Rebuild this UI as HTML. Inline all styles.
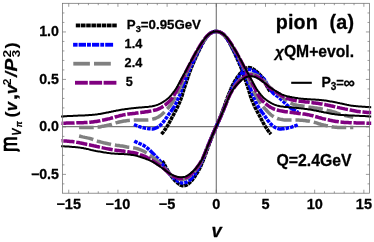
<!DOCTYPE html>
<html><head><meta charset="utf-8"><title>chart</title>
<style>svg text{stroke:#000;stroke-width:0.28px;stroke-linejoin:round}html,body{margin:0;padding:0;background:#fff;overflow:hidden}body{width:374px;height:242px;position:relative;font-family:"Liberation Sans",sans-serif}</style></head>
<body>
<svg width="374" height="242" viewBox="0 0 374 242" style="position:absolute;left:0;top:0;will-change:transform">
<rect width="374" height="242" fill="#fff"/>
<filter id="f" x="0" y="0" width="374" height="242" filterUnits="userSpaceOnUse" color-interpolation-filters="sRGB"><feOffset dx="0" dy="0"/></filter><g filter="url(#f)">
<defs><clipPath id="c"><rect x="61.1" y="3.3" width="310.09999999999997" height="189.89999999999998"/></clipPath></defs>
<g stroke="#787878" stroke-width="1.15" fill="none"><line x1="62.5" y1="126.6" x2="369.4" y2="126.6"/><line x1="216.3" y1="3.3" x2="216.3" y2="193.2"/></g>
<g fill="none" clip-path="url(#c)">
<path d="M161.4,134.2 L162.2,133.3 L163.0,132.4 L163.7,131.4 L164.4,130.4 L165.1,129.4 L165.8,128.5 L166.4,127.4 L167.1,126.4 L167.7,125.4 L168.3,124.3 L168.9,123.3 L169.5,122.3 L170.0,121.2 L170.6,120.1 L171.2,119.1 L171.7,118.0 L172.3,116.9 L172.9,115.9 L173.4,114.8 L174.0,113.8 L174.6,112.7 L175.1,111.6 L175.7,110.6 L176.2,109.5 L176.8,108.4 L177.3,107.4 L177.8,106.3 L178.3,105.2 L178.8,104.1 L179.3,103.0 L179.8,101.9 L180.2,100.7 L180.7,99.6 L181.1,98.5 L181.5,97.4 L181.9,96.2 L182.2,95.1 L182.6,93.9 L182.9,92.8 L183.2,91.6 L183.6,90.5 L183.9,89.3 L184.3,88.2 L184.7,87.0 L185.1,85.9 L185.5,84.7 L185.8,83.6 L186.2,82.5 L186.6,81.3 L187.0,80.2 L187.4,79.0 L187.7,77.9 L188.1,76.7 L188.5,75.6 L188.8,74.5 L189.2,73.3 L189.6,72.2 L190.1,71.1 L190.5,69.9 L190.9,68.8 L191.4,67.7 L191.8,66.6 L192.3,65.5 L192.8,64.4 L193.2,63.3 L193.7,62.2 L194.2,61.1 L194.7,60.0 L195.2,58.9 L195.7,57.8 L196.2,56.7 L196.7,55.6 L197.2,54.5 L197.7,53.4 L198.2,52.3 L198.7,51.2 L199.2,50.1 L199.8,49.1 L200.3,48.0 L200.9,46.9 L201.4,45.8 L202.0,44.8 L202.5,43.7 L203.1,42.7 L203.7,41.6 L204.3,40.6 L204.9,39.5 L205.6,38.5 L206.3,37.6 L207.0,36.6 L207.8,35.7 L208.7,34.8 L209.6,34.0 L210.5,33.3 L211.6,32.7 L212.7,32.1 L213.8,31.7 L215.0,31.5 L216.2,31.4 L217.4,31.5 L218.6,31.7 L219.7,32.1 L220.8,32.7 L221.9,33.3 L222.8,34.0 L223.7,34.8 L224.6,35.7 L225.4,36.6 L226.1,37.6 L226.8,38.5 L227.5,39.5 L228.1,40.6 L228.7,41.6 L229.3,42.7 L229.9,43.7 L230.4,44.8 L231.0,45.8 L231.5,46.9 L232.1,48.0 L232.6,49.1 L233.2,50.1 L233.7,51.2 L234.2,52.3 L234.7,53.4 L235.2,54.5 L235.7,55.6 L236.2,56.7 L236.7,57.8 L237.2,58.9 L237.7,60.0 L238.2,61.1 L238.7,62.2 L239.2,63.3 L239.6,64.4 L240.1,65.5 L240.6,66.6 L241.0,67.7 L241.5,68.8 L241.9,69.9 L242.3,71.1 L242.8,72.2 L243.2,73.3 L243.6,74.5 L243.9,75.6 L244.3,76.7 L244.7,77.9 L245.0,79.0 L245.4,80.2 L245.8,81.3 L246.2,82.5 L246.6,83.6 L246.9,84.7 L247.3,85.9 L247.7,87.0 L248.1,88.2 L248.5,89.3 L248.8,90.5 L249.2,91.6 L249.5,92.8 L249.8,93.9 L250.2,95.1 L250.5,96.2 L250.9,97.4 L251.3,98.5 L251.7,99.6 L252.2,100.7 L252.6,101.9 L253.1,103.0 L253.6,104.1 L254.1,105.2 L254.6,106.3 L255.1,107.4 L255.6,108.4 L256.2,109.5 L256.7,110.6 L257.3,111.6 L257.8,112.7 L258.4,113.8 L259.0,114.8 L259.5,115.9 L260.1,116.9 L260.7,118.0 L261.2,119.1 L261.8,120.1 L262.4,121.2 L262.9,122.3 L263.5,123.3 L264.1,124.3 L264.7,125.4 L265.3,126.4 L266.0,127.4 L266.6,128.5 L267.3,129.4 L268.0,130.4 L268.7,131.4 L269.4,132.4 L270.2,133.3 L271.0,134.2" stroke="#000" stroke-width="3.5" stroke-dasharray="3.65,0.65"/>
<path d="M162.3,161.0 L162.9,162.0 L163.6,163.0 L164.2,164.1 L164.8,165.1 L165.3,166.2 L165.9,167.3 L166.5,168.3 L167.0,169.4 L167.6,170.4 L168.2,171.5 L168.8,172.5 L169.5,173.5 L170.1,174.5 L170.8,175.5 L171.5,176.5 L172.3,177.5 L173.0,178.4 L173.8,179.3 L174.6,180.2 L175.5,181.1 L176.3,181.9 L177.2,182.7 L178.2,183.5 L179.1,184.2 L180.1,184.9 L181.2,185.4 L182.4,185.7 L183.6,185.8 L184.8,185.6 L186.0,185.3 L187.1,184.8 L188.1,184.1 L189.0,183.3 L189.9,182.5 L190.8,181.6 L191.6,180.7 L192.4,179.8 L193.1,178.8 L193.8,177.9 L194.6,176.9 L195.3,175.9 L195.9,174.9 L196.6,173.9 L197.2,172.9 L197.8,171.9 L198.4,170.8 L199.0,169.7 L199.5,168.7 L200.1,167.6 L200.6,166.5 L201.1,165.4 L201.5,164.3 L202.0,163.2 L202.5,162.1 L202.9,161.0 L203.4,159.8 L203.8,158.7 L204.3,157.6 L204.7,156.5 L205.1,155.4 L205.6,154.2 L206.0,153.1 L206.4,152.0 L206.8,150.8 L207.2,149.7 L207.6,148.6 L208.0,147.4 L208.4,146.3 L208.9,145.2 L209.3,144.0 L209.7,142.9 L210.1,141.8 L210.5,140.6 L211.0,139.5 L211.4,138.4 L211.8,137.3 L212.3,136.2 L212.7,135.0 L213.2,133.9 L213.6,132.8 L214.1,131.7 L214.6,130.6 L215.0,129.5 L215.5,128.4 L216.0,127.3 L216.4,126.1 L216.9,125.0 L217.4,123.9 L217.8,122.8 L218.3,121.7 L218.8,120.6 L219.2,119.5 L219.7,118.4 L220.1,117.2 L220.6,116.1 L221.0,115.0 L221.4,113.9 L221.9,112.8 L222.3,111.6 L222.7,110.5 L223.1,109.4 L223.5,108.2 L224.0,107.1 L224.4,106.0 L224.8,104.8 L225.2,103.7 L225.6,102.6 L226.0,101.4 L226.4,100.3 L226.8,99.2 L227.3,98.0 L227.7,96.9 L228.1,95.8 L228.6,94.7 L229.0,93.6 L229.5,92.4 L229.9,91.3 L230.4,90.2 L230.9,89.1 L231.3,88.0 L231.8,86.9 L232.3,85.8 L232.9,84.7 L233.4,83.7 L234.0,82.6 L234.6,81.5 L235.2,80.5 L235.8,79.5 L236.5,78.5 L237.1,77.5 L237.8,76.5 L238.6,75.5 L239.3,74.6 L240.0,73.6 L240.8,72.7 L241.6,71.8 L242.5,70.9 L243.4,70.1 L244.3,69.3 L245.3,68.6 L246.4,68.1 L247.6,67.8 L248.8,67.6 L250.0,67.7 L251.2,68.0 L252.3,68.5 L253.3,69.1 L254.2,69.8 L255.2,70.5 L256.1,71.2 L256.9,71.9 L257.8,72.6 L258.6,73.4 L259.4,74.2 L260.1,75.0 L260.9,75.8 L261.6,76.5 L262.3,77.3 L262.9,78.2 L263.6,79.3 L264.2,80.4 L264.8,81.5 L265.4,82.8 L265.9,84.1 L266.5,85.4 L267.1,86.5 L267.6,87.6 L268.2,88.6 L268.8,89.6 L269.5,90.6 L270.1,91.6" stroke="#000" stroke-width="3.5" stroke-dasharray="3.65,0.65"/>
<path d="M134.0,124.5 L135.1,125.0 L136.2,125.5 L137.3,125.9 L138.4,126.3 L139.6,126.7 L140.7,127.1 L141.9,127.4 L143.1,127.7 L144.2,127.9 L145.4,128.2 L146.6,128.4 L147.8,128.6 L149.0,128.7 L150.2,128.8 L151.4,128.9 L152.6,128.9 L153.8,128.7 L155.0,128.4 L156.1,128.0 L157.2,127.5 L158.3,126.9 L159.2,126.2 L160.2,125.4 L161.0,124.6 L161.9,123.7 L162.7,122.8 L163.4,121.8 L164.2,120.9 L164.9,119.9 L165.6,118.9 L166.3,117.9 L167.0,117.0 L167.6,116.0 L168.3,115.0 L169.0,114.0 L169.8,113.0 L170.5,112.1 L171.2,111.1 L171.9,110.1 L172.6,109.1 L173.3,108.1 L173.9,107.1 L174.5,106.1 L175.1,105.0 L175.6,104.0 L176.1,102.9 L176.6,101.8 L177.0,100.6 L177.5,99.5 L178.0,98.4 L178.5,97.3 L179.1,96.3 L179.6,95.2 L180.1,94.1 L180.5,93.0 L180.9,91.8 L181.2,90.7 L181.6,89.5 L182.0,88.4 L182.4,87.2 L182.8,86.1 L183.3,85.0 L183.8,83.9 L184.2,82.8 L184.7,81.7 L185.2,80.6 L185.6,79.5 L186.0,78.3 L186.4,77.2 L186.9,76.1 L187.3,75.0 L187.7,73.8 L188.2,72.7 L188.6,71.6 L189.1,70.5 L189.5,69.4 L190.0,68.3 L190.5,67.2 L191.0,66.1 L191.5,65.0 L192.0,63.9 L192.5,62.8 L193.0,61.7 L193.5,60.6 L194.1,59.5 L194.6,58.5 L195.1,57.4 L195.6,56.3 L196.1,55.2 L196.7,54.1 L197.2,53.0 L197.7,52.0 L198.3,50.9 L198.8,49.8 L199.4,48.8 L200.0,47.7 L200.5,46.6 L201.1,45.6 L201.7,44.5 L202.3,43.5 L202.9,42.4 L203.5,41.4 L204.1,40.4 L204.8,39.4 L205.5,38.4 L206.2,37.4 L206.9,36.5 L207.7,35.6 L208.6,34.7 L209.5,33.9 L210.5,33.2 L211.6,32.6 L212.7,32.1 L213.8,31.7 L215.0,31.5 L216.2,31.4 L217.4,31.5 L218.6,31.7 L219.7,32.1 L220.8,32.6 L221.9,33.2 L222.9,33.9 L223.8,34.7 L224.7,35.6 L225.5,36.5 L226.2,37.4 L226.9,38.4 L227.6,39.4 L228.3,40.4 L228.9,41.4 L229.5,42.4 L230.1,43.5 L230.7,44.5 L231.3,45.6 L231.9,46.6 L232.4,47.7 L233.0,48.8 L233.6,49.8 L234.1,50.9 L234.7,52.0 L235.2,53.0 L235.7,54.1 L236.3,55.2 L236.8,56.3 L237.3,57.4 L237.8,58.5 L238.3,59.5 L238.9,60.6 L239.4,61.7 L239.9,62.8 L240.4,63.9 L240.9,65.0 L241.4,66.1 L241.9,67.2 L242.4,68.3 L242.9,69.4 L243.3,70.5 L243.8,71.6 L244.2,72.7 L244.7,73.8 L245.1,75.0 L245.5,76.1 L246.0,77.2 L246.4,78.3 L246.8,79.5 L247.2,80.6 L247.7,81.7 L248.2,82.8 L248.6,83.9 L249.1,85.0 L249.6,86.1 L250.0,87.2 L250.4,88.4 L250.8,89.5 L251.2,90.7 L251.5,91.8 L251.9,93.0 L252.3,94.1 L252.8,95.2 L253.3,96.3 L253.9,97.3 L254.4,98.4 L254.9,99.5 L255.4,100.6 L255.8,101.8 L256.3,102.9 L256.8,104.0 L257.3,105.0 L257.9,106.1 L258.5,107.1 L259.1,108.1 L259.8,109.1 L260.5,110.1 L261.2,111.1 L261.9,112.1 L262.6,113.0 L263.4,114.0 L264.1,115.0 L264.8,116.0 L265.4,117.0 L266.1,117.9 L266.8,118.9 L267.5,119.9 L268.2,120.9 L269.0,121.8 L269.7,122.8 L270.5,123.7 L271.4,124.6 L272.2,125.4 L273.2,126.2 L274.1,126.9 L275.2,127.5 L276.3,128.0 L277.4,128.4 L278.6,128.7 L279.8,128.9 L281.0,128.9 L282.2,128.8 L283.4,128.7 L284.6,128.6 L285.8,128.4 L287.0,128.2 L288.2,127.9 L289.3,127.7 L290.5,127.4 L291.7,127.1 L292.8,126.7 L294.0,126.3 L295.1,125.9 L296.2,125.5 L297.3,125.0 L298.4,124.5" stroke="#0000ff" stroke-width="3.5" stroke-dasharray="3.6,0.97,3.6,0.97,3.6,0.97,3.6,0.97,7.37,0.97"/>
<path d="M134.3,141.1 L135.3,141.7 L136.4,142.2 L137.5,142.7 L138.6,143.2 L139.8,143.7 L140.9,144.1 L142.0,144.6 L143.0,145.1 L144.1,145.7 L145.1,146.4 L146.1,147.1 L147.0,147.8 L148.0,148.6 L148.9,149.4 L149.8,150.2 L150.6,151.0 L151.5,151.9 L152.3,152.8 L153.1,153.6 L154.0,154.5 L154.8,155.3 L155.6,156.2 L156.5,157.1 L157.3,158.0 L158.1,158.8 L158.9,159.7 L159.7,160.6 L160.5,161.6 L161.2,162.5 L162.0,163.5 L162.7,164.4 L163.4,165.4 L164.1,166.4 L164.8,167.4 L165.5,168.4 L166.1,169.4 L166.8,170.4 L167.5,171.3 L168.2,172.3 L169.0,173.2 L169.8,174.2 L170.6,175.0 L171.4,175.9 L172.3,176.8 L173.1,177.6 L174.0,178.4 L175.0,179.2 L175.9,179.9 L176.9,180.6 L177.9,181.3 L179.0,181.9 L180.1,182.3 L181.2,182.7 L182.4,182.9 L183.6,182.9 L184.8,182.7 L186.0,182.4 L187.1,181.9 L188.2,181.3 L189.2,180.7 L190.1,179.9 L191.0,179.0 L191.8,178.2 L192.6,177.2 L193.3,176.3 L194.1,175.3 L194.8,174.4 L195.4,173.4 L196.1,172.4 L196.7,171.3 L197.3,170.3 L197.9,169.3 L198.5,168.2 L199.1,167.1 L199.6,166.1 L200.2,165.0 L200.7,163.9 L201.2,162.8 L201.7,161.7 L202.2,160.6 L202.6,159.5 L203.1,158.4 L203.5,157.3 L204.0,156.1 L204.4,155.0 L204.9,153.9 L205.3,152.8 L205.7,151.7 L206.1,150.5 L206.6,149.4 L207.0,148.3 L207.4,147.2 L207.9,146.0 L208.3,144.9 L208.8,143.8 L209.2,142.7 L209.7,141.6 L210.2,140.5 L210.6,139.4 L211.1,138.3 L211.6,137.1 L212.0,136.0 L212.5,134.9 L213.0,133.8 L213.5,132.7 L214.0,131.6 L214.5,130.5 L215.0,129.4 L215.5,128.3 L216.0,127.2 L216.4,126.2 L216.9,125.1 L217.4,124.0 L217.9,122.9 L218.4,121.8 L218.9,120.7 L219.4,119.6 L219.9,118.5 L220.4,117.4 L220.8,116.3 L221.3,115.1 L221.8,114.0 L222.2,112.9 L222.7,111.8 L223.2,110.7 L223.6,109.6 L224.1,108.5 L224.5,107.4 L225.0,106.2 L225.4,105.1 L225.8,104.0 L226.3,102.9 L226.7,101.7 L227.1,100.6 L227.5,99.5 L228.0,98.4 L228.4,97.3 L228.9,96.1 L229.3,95.0 L229.8,93.9 L230.2,92.8 L230.7,91.7 L231.2,90.6 L231.7,89.5 L232.2,88.4 L232.8,87.3 L233.3,86.3 L233.9,85.2 L234.5,84.1 L235.1,83.1 L235.7,82.1 L236.3,81.0 L237.0,79.9 L237.6,78.8 L238.3,77.7 L239.1,76.6 L239.8,75.5 L240.6,74.5 L241.4,73.5 L242.3,72.6 L243.2,71.8 L244.2,71.0 L245.3,70.3 L246.4,69.8 L247.6,69.5 L248.8,69.4 L250.0,69.4 L251.2,69.7 L252.3,70.2 L253.4,70.8 L254.5,71.5 L255.5,72.3 L256.5,73.2 L257.4,73.8 L258.4,74.6 L259.3,75.3 L260.1,76.1 L261.0,76.7 L261.8,77.2 L262.6,77.8 L263.4,78.4 L264.2,79.1 L264.9,80.2 L265.6,81.4 L266.3,82.7 L266.9,84.0 L267.6,85.3 L268.3,86.6 L269.0,87.8 L269.7,88.8 L270.4,89.7 L271.2,90.6 L271.9,91.6 L272.7,92.5 L273.5,93.4 L274.3,94.0 L275.1,94.6 L275.9,95.2 L276.8,95.8 L277.6,96.4 L278.4,96.9 L279.3,97.7 L280.1,98.5 L280.9,99.3 L281.8,100.1 L282.6,100.9 L283.5,101.6 L284.4,102.6 L285.4,103.6 L286.3,104.5 L287.3,105.4 L288.3,106.2 L289.4,107.1 L290.4,107.8 L291.5,108.5 L292.6,109.3 L293.8,109.9 L294.9,110.5 L296.0,111.2 L297.1,111.8 L298.1,112.6" stroke="#0000ff" stroke-width="3.5" stroke-dasharray="3.6,0.97,3.6,0.97,3.6,0.97,3.6,0.97,7.37,0.97"/>
<path d="M79.1,127.5 L80.3,127.5 L81.5,127.5 L82.7,127.5 L83.9,127.6 L85.1,127.6 L86.3,127.6 L87.5,127.6 L88.7,127.6 L89.9,127.6 L91.1,127.6 L92.3,127.6 L93.5,127.5 L94.7,127.4 L95.9,127.3 L97.1,127.2 L98.3,127.1 L99.5,126.9 L100.7,126.7 L101.9,126.4 L103.0,126.2 L104.2,126.0 L105.4,125.7 L106.6,125.5 L107.8,125.2 L108.9,125.0 L110.1,124.7 L111.3,124.4 L112.4,124.0 L113.6,123.7 L114.7,123.3 L115.8,122.9 L117.0,122.6 L118.2,122.3 L119.3,122.0 L120.5,121.7 L121.7,121.5 L122.9,121.2 L124.0,121.0 L125.2,120.9 L126.4,120.7 L127.6,120.5 L128.8,120.4 L130.0,120.3 L131.2,120.2 L132.4,120.2 L133.6,120.1 L134.8,120.1 L136.0,120.1 L137.2,120.1 L138.4,120.1 L139.6,120.1 L140.8,120.1 L142.0,120.1 L143.2,120.1 L144.4,120.1 L145.6,120.1 L146.8,120.0 L148.0,119.9 L149.2,119.8 L150.4,119.6 L151.6,119.4 L152.8,119.1 L154.0,118.8 L155.1,118.5 L156.2,118.0 L157.3,117.5 L158.4,117.0 L159.4,116.3 L160.4,115.6 L161.4,114.9 L162.3,114.1 L163.1,113.3 L164.0,112.4 L164.8,111.5 L165.6,110.7 L166.4,109.8 L167.3,108.9 L168.1,108.0 L168.9,107.1 L169.7,106.2 L170.5,105.3 L171.2,104.4 L171.9,103.4 L172.5,102.3 L173.1,101.3 L173.6,100.2 L174.2,99.1 L174.7,98.1 L175.3,97.0 L176.0,96.0 L176.6,95.0 L177.2,94.0 L177.8,92.9 L178.3,91.8 L178.8,90.7 L179.2,89.6 L179.7,88.5 L180.2,87.4 L180.7,86.3 L181.2,85.2 L181.6,84.1 L182.1,83.0 L182.6,81.9 L183.1,80.8 L183.5,79.7 L184.0,78.6 L184.4,77.4 L184.9,76.3 L185.4,75.2 L185.8,74.1 L186.3,73.0 L186.8,71.9 L187.3,70.8 L187.8,69.7 L188.3,68.6 L188.9,67.6 L189.4,66.5 L189.9,65.4 L190.4,64.3 L190.9,63.2 L191.4,62.1 L192.0,61.1 L192.5,60.0 L193.1,58.9 L193.6,57.9 L194.2,56.8 L194.8,55.7 L195.3,54.7 L195.9,53.6 L196.5,52.6 L197.1,51.5 L197.7,50.5 L198.3,49.4 L198.9,48.4 L199.5,47.3 L200.1,46.3 L200.7,45.3 L201.3,44.3 L202.0,43.2 L202.6,42.2 L203.3,41.2 L204.0,40.2 L204.7,39.2 L205.4,38.3 L206.1,37.3 L206.9,36.4 L207.7,35.6 L208.6,34.7 L209.5,33.9 L210.5,33.2 L211.6,32.6 L212.7,32.1 L213.8,31.7 L215.0,31.5 L216.2,31.4 L217.4,31.5 L218.6,31.7 L219.7,32.1 L220.8,32.6 L221.9,33.2 L222.9,33.9 L223.8,34.7 L224.7,35.6 L225.5,36.4 L226.3,37.3 L227.0,38.3 L227.7,39.2 L228.4,40.2 L229.1,41.2 L229.8,42.2 L230.4,43.2 L231.1,44.3 L231.7,45.3 L232.3,46.3 L232.9,47.3 L233.5,48.4 L234.1,49.4 L234.7,50.5 L235.3,51.5 L235.9,52.6 L236.5,53.6 L237.1,54.7 L237.6,55.7 L238.2,56.8 L238.8,57.9 L239.3,58.9 L239.9,60.0 L240.4,61.1 L241.0,62.1 L241.5,63.2 L242.0,64.3 L242.5,65.4 L243.0,66.5 L243.5,67.6 L244.1,68.6 L244.6,69.7 L245.1,70.8 L245.6,71.9 L246.1,73.0 L246.6,74.1 L247.0,75.2 L247.5,76.3 L248.0,77.4 L248.4,78.6 L248.9,79.7 L249.3,80.8 L249.8,81.9 L250.3,83.0 L250.8,84.1 L251.2,85.2 L251.7,86.3 L252.2,87.4 L252.7,88.5 L253.2,89.6 L253.6,90.7 L254.1,91.8 L254.6,92.9 L255.2,94.0 L255.8,95.0 L256.4,96.0 L257.1,97.0 L257.7,98.1 L258.2,99.1 L258.8,100.2 L259.3,101.3 L259.9,102.3 L260.5,103.4 L261.2,104.4 L261.9,105.3 L262.7,106.2 L263.5,107.1 L264.3,108.0 L265.1,108.9 L266.0,109.8 L266.8,110.7 L267.6,111.5 L268.4,112.4 L269.3,113.3 L270.1,114.1 L271.0,114.9 L272.0,115.6 L273.0,116.3 L274.0,117.0 L275.1,117.5 L276.2,118.0 L277.3,118.5 L278.4,118.8 L279.6,119.1 L280.8,119.4 L282.0,119.6 L283.2,119.8 L284.4,119.9 L285.6,120.0 L286.8,120.1 L288.0,120.1 L289.2,120.1 L290.4,120.1 L291.6,120.1 L292.8,120.1 L294.0,120.1 L295.2,120.1 L296.4,120.1 L297.6,120.1 L298.8,120.1 L300.0,120.2 L301.2,120.2 L302.4,120.3 L303.6,120.4 L304.8,120.5 L306.0,120.7 L307.2,120.9 L308.4,121.0 L309.5,121.2 L310.7,121.5 L311.9,121.7 L313.1,122.0 L314.2,122.3 L315.4,122.6 L316.6,122.9 L317.7,123.3 L318.8,123.7 L320.0,124.0 L321.1,124.4 L322.3,124.7 L323.5,125.0 L324.6,125.2 L325.8,125.5 L327.0,125.7 L328.2,126.0 L329.4,126.2 L330.5,126.4 L331.7,126.7 L332.9,126.9 L334.1,127.1 L335.3,127.2 L336.5,127.3 L337.7,127.4 L338.9,127.5 L340.1,127.6 L341.3,127.6 L342.5,127.6 L343.7,127.6 L344.9,127.6 L346.1,127.6 L347.3,127.6 L348.5,127.6 L349.7,127.5 L350.9,127.5 L352.1,127.5 L353.3,127.5" stroke="#808080" stroke-width="3.5" stroke-dasharray="14.6,3.9"/>
<path d="M79.1,136.0 L80.3,136.3 L81.4,136.6 L82.6,136.9 L83.8,137.1 L84.9,137.4 L86.1,137.6 L87.3,137.9 L88.5,138.1 L89.6,138.4 L90.8,138.7 L92.0,139.1 L93.1,139.5 L94.2,139.9 L95.3,140.3 L96.4,140.8 L97.6,141.2 L98.7,141.5 L99.9,141.8 L101.0,142.1 L102.2,142.4 L103.4,142.7 L104.6,142.9 L105.7,143.2 L106.9,143.5 L108.1,143.8 L109.2,144.1 L110.4,144.3 L111.6,144.6 L112.8,144.8 L113.9,144.9 L115.1,145.1 L116.3,145.3 L117.5,145.4 L118.7,145.6 L119.9,145.8 L121.1,145.9 L122.3,146.1 L123.5,146.3 L124.6,146.5 L125.8,146.7 L127.0,147.0 L128.2,147.2 L129.4,147.3 L130.6,147.5 L131.7,147.6 L132.9,147.7 L134.1,147.9 L135.3,148.1 L136.5,148.4 L137.6,148.7 L138.8,149.1 L139.9,149.5 L141.0,150.0 L142.1,150.5 L143.2,151.0 L144.3,151.5 L145.3,152.1 L146.3,152.8 L147.4,153.4 L148.4,154.1 L149.3,154.8 L150.3,155.5 L151.3,156.2 L152.3,156.9 L153.2,157.6 L154.2,158.3 L155.1,159.1 L156.0,159.8 L157.0,160.6 L157.9,161.4 L158.8,162.2 L159.7,163.0 L160.5,163.8 L161.4,164.7 L162.2,165.5 L163.1,166.4 L163.9,167.3 L164.7,168.2 L165.4,169.1 L166.2,170.0 L167.0,170.9 L167.8,171.8 L168.6,172.7 L169.4,173.6 L170.3,174.4 L171.2,175.2 L172.2,175.9 L173.2,176.6 L174.2,177.2 L175.3,177.8 L176.4,178.3 L177.5,178.7 L178.7,179.0 L179.9,179.3 L181.1,179.4 L182.3,179.4 L183.5,179.2 L184.7,179.0 L185.8,178.6 L186.9,178.1 L188.0,177.5 L189.0,176.8 L189.9,176.1 L190.8,175.3 L191.7,174.4 L192.5,173.6 L193.3,172.7 L194.1,171.8 L194.9,170.9 L195.7,169.9 L196.4,169.0 L197.1,168.0 L197.8,167.1 L198.5,166.1 L199.2,165.1 L199.9,164.1 L200.5,163.1 L201.1,162.0 L201.7,161.0 L202.3,159.9 L202.8,158.8 L203.3,157.7 L203.7,156.6 L204.2,155.5 L204.6,154.4 L205.1,153.3 L205.5,152.1 L205.9,151.0 L206.3,149.9 L206.8,148.8 L207.2,147.7 L207.6,146.5 L208.1,145.4 L208.5,144.3 L209.0,143.2 L209.5,142.1 L209.9,141.0 L210.4,139.9 L210.9,138.8 L211.3,137.7 L211.8,136.6 L212.3,135.5 L212.8,134.4 L213.3,133.3 L213.8,132.2 L214.2,131.1 L214.7,130.0 L215.2,128.9 L215.7,127.8 L216.2,126.7 L216.7,125.6 L217.2,124.5 L217.7,123.4 L218.2,122.3 L218.6,121.2 L219.1,120.1 L219.6,119.0 L220.1,117.9 L220.6,116.8 L221.1,115.7 L221.5,114.6 L222.0,113.5 L222.5,112.4 L222.9,111.3 L223.4,110.2 L223.9,109.1 L224.3,108.0 L224.8,106.9 L225.2,105.7 L225.6,104.6 L226.1,103.5 L226.5,102.4 L226.9,101.3 L227.3,100.1 L227.8,99.0 L228.2,97.9 L228.7,96.8 L229.1,95.7 L229.6,94.6 L230.1,93.5 L230.7,92.4 L231.3,91.4 L231.9,90.3 L232.5,89.3 L233.2,88.3 L233.9,87.3 L234.6,86.3 L235.3,85.4 L236.0,84.4 L236.7,83.5 L237.5,82.5 L238.3,81.6 L239.1,80.7 L239.9,79.8 L240.7,79.0 L241.6,78.1 L242.5,77.3 L243.4,76.6 L244.4,75.9 L245.5,75.3 L246.6,74.8 L247.7,74.4 L248.9,74.2 L250.1,74.0 L251.3,74.0 L252.5,74.1 L253.7,74.4 L254.9,74.7 L256.0,75.1 L257.1,75.6 L258.2,76.2 L259.2,76.8 L260.2,77.5 L261.2,78.2 L262.1,79.0 L263.0,79.8 L263.8,80.7 L264.6,81.6 L265.4,82.5 L266.2,83.4 L267.0,84.2 L267.7,85.0 L268.5,85.9 L269.3,86.7 L270.2,87.5 L271.0,88.2 L271.9,88.9 L272.7,89.6 L273.6,90.4 L274.5,91.1 L275.4,91.9 L276.4,92.6 L277.3,93.3 L278.2,94.1 L279.2,94.8 L280.1,95.5 L281.1,96.2 L282.1,97.0 L283.1,97.8 L284.0,98.6 L285.0,99.4 L286.1,100.1 L287.1,100.9 L288.1,101.6 L289.2,102.3 L290.3,102.9 L291.4,103.4 L292.5,103.9 L293.6,104.3 L294.8,104.7 L295.9,105.0 L297.1,105.3 L298.3,105.5 L299.5,105.7 L300.7,105.8 L301.8,105.9 L303.0,106.1 L304.2,106.2 L305.4,106.4 L306.6,106.7 L307.8,106.9 L308.9,107.1 L310.1,107.3 L311.3,107.5 L312.5,107.6 L313.7,107.8 L314.9,108.0 L316.1,108.1 L317.3,108.3 L318.5,108.5 L319.6,108.6 L320.8,108.8 L322.0,109.1 L323.2,109.3 L324.3,109.6 L325.5,109.9 L326.7,110.2 L327.8,110.5 L329.0,110.7 L330.2,111.0 L331.4,111.3 L332.5,111.6 L333.7,111.9 L334.8,112.2 L336.0,112.6 L337.1,113.1 L338.2,113.5 L339.3,113.9 L340.4,114.3 L341.6,114.7 L342.8,115.0 L343.9,115.3 L345.1,115.5 L346.3,115.8 L347.5,116.0 L348.6,116.3 L349.8,116.5 L351.0,116.8 L352.1,117.1 L353.3,117.4" stroke="#808080" stroke-width="3.5" stroke-dasharray="14.6,3.9"/>
<path d="M52.0,123.5 L53.2,123.5 L54.4,123.4 L55.6,123.4 L56.8,123.4 L58.0,123.3 L59.2,123.3 L60.4,123.3 L61.6,123.2 L62.8,123.2 L64.0,123.2 L65.2,123.2 L66.4,123.1 L67.6,123.1 L68.8,123.1 L70.0,123.1 L71.2,123.0 L72.4,123.0 L73.6,123.0 L74.8,122.9 L76.0,122.9 L77.2,122.8 L78.4,122.8 L79.6,122.8 L80.8,122.7 L82.0,122.7 L83.2,122.7 L84.4,122.6 L85.7,122.6 L86.9,122.5 L88.1,122.4 L89.3,122.3 L90.4,122.2 L91.6,122.1 L92.8,122.0 L94.0,121.8 L95.2,121.6 L96.4,121.5 L97.6,121.2 L98.8,121.0 L100.0,120.8 L101.1,120.5 L102.3,120.3 L103.5,120.0 L104.7,119.8 L105.8,119.5 L107.0,119.2 L108.2,118.9 L109.3,118.7 L110.5,118.4 L111.7,118.0 L112.8,117.7 L114.0,117.4 L115.1,117.0 L116.3,116.7 L117.4,116.4 L118.6,116.1 L119.8,115.7 L120.9,115.4 L122.1,115.2 L123.3,114.9 L124.4,114.7 L125.6,114.5 L126.8,114.3 L128.0,114.1 L129.2,114.0 L130.4,113.8 L131.6,113.7 L132.8,113.5 L134.0,113.4 L135.2,113.3 L136.4,113.1 L137.6,113.0 L138.7,112.8 L139.9,112.6 L141.1,112.5 L142.3,112.3 L143.5,112.2 L144.7,112.0 L145.9,111.8 L147.1,111.7 L148.3,111.5 L149.5,111.3 L150.6,111.1 L151.8,110.9 L153.0,110.6 L154.2,110.3 L155.3,110.0 L156.5,109.7 L157.6,109.3 L158.7,108.8 L159.8,108.3 L160.9,107.8 L162.0,107.2 L163.0,106.5 L164.0,105.9 L165.0,105.2 L165.9,104.4 L166.8,103.7 L167.7,102.9 L168.6,102.1 L169.5,101.2 L170.3,100.4 L171.1,99.5 L171.9,98.5 L172.6,97.6 L173.3,96.6 L173.9,95.6 L174.5,94.5 L175.1,93.5 L175.6,92.4 L176.2,91.3 L176.7,90.2 L177.2,89.1 L177.7,88.0 L178.3,87.0 L178.8,85.9 L179.3,84.8 L179.9,83.7 L180.4,82.6 L180.9,81.6 L181.5,80.5 L182.0,79.4 L182.5,78.3 L183.1,77.3 L183.6,76.2 L184.2,75.1 L184.7,74.1 L185.3,73.0 L185.8,71.9 L186.4,70.9 L186.9,69.8 L187.5,68.7 L188.0,67.6 L188.5,66.6 L189.1,65.5 L189.6,64.4 L190.2,63.3 L190.7,62.3 L191.3,61.2 L191.8,60.1 L192.4,59.1 L192.9,58.0 L193.5,57.0 L194.1,55.9 L194.7,54.8 L195.2,53.8 L195.8,52.7 L196.4,51.7 L197.0,50.7 L197.6,49.6 L198.2,48.6 L198.9,47.5 L199.5,46.5 L200.1,45.5 L200.7,44.5 L201.4,43.5 L202.0,42.4 L202.7,41.5 L203.4,40.5 L204.1,39.5 L204.8,38.5 L205.6,37.6 L206.4,36.7 L207.2,35.8 L208.1,35.0 L209.0,34.2 L210.0,33.5 L211.0,32.9 L212.1,32.3 L213.2,31.9 L214.4,31.6 L215.6,31.4 L216.8,31.4 L218.0,31.6 L219.2,31.9 L220.3,32.3 L221.4,32.9 L222.4,33.5 L223.4,34.2 L224.3,35.0 L225.2,35.8 L226.0,36.7 L226.8,37.6 L227.6,38.5 L228.3,39.5 L229.0,40.5 L229.7,41.5 L230.4,42.4 L231.0,43.5 L231.7,44.5 L232.3,45.5 L232.9,46.5 L233.5,47.5 L234.2,48.6 L234.8,49.6 L235.4,50.7 L236.0,51.7 L236.6,52.7 L237.2,53.8 L237.7,54.8 L238.3,55.9 L238.9,57.0 L239.5,58.0 L240.0,59.1 L240.6,60.1 L241.1,61.2 L241.7,62.3 L242.2,63.3 L242.8,64.4 L243.3,65.5 L243.9,66.6 L244.4,67.6 L244.9,68.7 L245.5,69.8 L246.0,70.9 L246.6,71.9 L247.1,73.0 L247.7,74.1 L248.2,75.1 L248.8,76.2 L249.3,77.3 L249.9,78.3 L250.4,79.4 L250.9,80.5 L251.5,81.6 L252.0,82.6 L252.5,83.7 L253.1,84.8 L253.6,85.9 L254.1,87.0 L254.7,88.0 L255.2,89.1 L255.7,90.2 L256.2,91.3 L256.8,92.4 L257.3,93.5 L257.9,94.5 L258.5,95.6 L259.1,96.6 L259.8,97.6 L260.5,98.5 L261.3,99.5 L262.1,100.4 L262.9,101.2 L263.8,102.1 L264.7,102.9 L265.6,103.7 L266.5,104.4 L267.4,105.2 L268.4,105.9 L269.4,106.5 L270.4,107.2 L271.5,107.8 L272.6,108.3 L273.7,108.8 L274.8,109.3 L275.9,109.7 L277.1,110.0 L278.2,110.3 L279.4,110.6 L280.6,110.9 L281.8,111.1 L282.9,111.3 L284.1,111.5 L285.3,111.7 L286.5,111.8 L287.7,112.0 L288.9,112.2 L290.1,112.3 L291.3,112.5 L292.5,112.6 L293.7,112.8 L294.8,113.0 L296.0,113.1 L297.2,113.3 L298.4,113.4 L299.6,113.5 L300.8,113.7 L302.0,113.8 L303.2,114.0 L304.4,114.1 L305.6,114.3 L306.8,114.5 L308.0,114.7 L309.1,114.9 L310.3,115.2 L311.5,115.4 L312.6,115.7 L313.8,116.1 L315.0,116.4 L316.1,116.7 L317.3,117.0 L318.4,117.4 L319.6,117.7 L320.7,118.0 L321.9,118.4 L323.1,118.7 L324.2,118.9 L325.4,119.2 L326.6,119.5 L327.7,119.8 L328.9,120.0 L330.1,120.3 L331.3,120.5 L332.4,120.8 L333.6,121.0 L334.8,121.2 L336.0,121.5 L337.2,121.6 L338.4,121.8 L339.6,122.0 L340.8,122.1 L342.0,122.2 L343.1,122.3 L344.3,122.4 L345.5,122.5 L346.7,122.6 L348.0,122.6 L349.2,122.7 L350.4,122.7 L351.6,122.7 L352.8,122.8 L354.0,122.8 L355.2,122.8 L356.4,122.9 L357.6,122.9 L358.8,123.0 L360.0,123.0 L361.2,123.0 L362.4,123.1 L363.6,123.1 L364.8,123.1 L366.0,123.1 L367.2,123.2 L368.4,123.2 L369.6,123.2 L370.8,123.2 L372.0,123.3 L373.2,123.3 L374.4,123.3 L375.6,123.4 L376.8,123.4 L378.0,123.4 L379.2,123.5 L380.4,123.5" stroke="#800080" stroke-width="3.5" stroke-dasharray="11.3,1.7" stroke-dashoffset="1.7"/>
<path d="M52.0,140.2 L53.2,140.3 L54.4,140.4 L55.6,140.5 L56.8,140.5 L58.0,140.6 L59.2,140.7 L60.4,140.7 L61.6,140.8 L62.8,140.9 L64.0,140.9 L65.2,141.0 L66.4,141.1 L67.6,141.2 L68.8,141.3 L70.0,141.4 L71.2,141.5 L72.4,141.6 L73.6,141.8 L74.8,142.0 L76.0,142.2 L77.1,142.4 L78.3,142.6 L79.5,142.8 L80.7,143.1 L81.9,143.3 L83.1,143.5 L84.2,143.8 L85.4,144.0 L86.6,144.3 L87.8,144.5 L88.9,144.8 L90.1,145.0 L91.3,145.3 L92.5,145.5 L93.6,145.8 L94.8,146.0 L96.0,146.3 L97.2,146.6 L98.3,146.8 L99.5,147.1 L100.7,147.4 L101.9,147.6 L103.0,147.9 L104.2,148.1 L105.4,148.4 L106.6,148.6 L107.7,148.9 L108.9,149.1 L110.1,149.3 L111.3,149.5 L112.5,149.7 L113.7,149.9 L114.9,150.1 L116.0,150.2 L117.2,150.4 L118.4,150.5 L119.6,150.7 L120.8,150.8 L122.0,150.9 L123.2,151.1 L124.4,151.3 L125.6,151.4 L126.8,151.6 L128.0,151.8 L129.2,152.0 L130.3,152.2 L131.5,152.4 L132.7,152.6 L133.9,152.8 L135.1,153.0 L136.2,153.3 L137.4,153.6 L138.6,154.0 L139.7,154.3 L140.8,154.8 L142.0,155.2 L143.1,155.6 L144.2,156.1 L145.3,156.6 L146.4,157.1 L147.4,157.7 L148.5,158.3 L149.5,158.8 L150.6,159.5 L151.6,160.1 L152.6,160.7 L153.6,161.4 L154.6,162.1 L155.6,162.7 L156.6,163.4 L157.6,164.1 L158.6,164.7 L159.6,165.4 L160.6,166.1 L161.6,166.8 L162.6,167.5 L163.5,168.3 L164.4,169.0 L165.3,169.9 L166.1,170.7 L167.0,171.6 L167.9,172.4 L168.7,173.2 L169.7,174.0 L170.6,174.7 L171.6,175.4 L172.7,176.0 L173.8,176.5 L174.9,177.0 L176.0,177.4 L177.2,177.8 L178.3,178.1 L179.5,178.4 L180.7,178.5 L181.9,178.5 L183.1,178.4 L184.3,178.1 L185.5,177.7 L186.6,177.3 L187.6,176.7 L188.6,176.0 L189.6,175.3 L190.5,174.5 L191.4,173.7 L192.3,172.8 L193.1,172.0 L193.9,171.1 L194.7,170.2 L195.5,169.3 L196.3,168.3 L197.0,167.4 L197.7,166.4 L198.4,165.5 L199.1,164.5 L199.8,163.5 L200.4,162.4 L201.0,161.4 L201.6,160.4 L202.2,159.3 L202.7,158.2 L203.2,157.1 L203.7,156.0 L204.2,154.9 L204.7,153.8 L205.1,152.7 L205.6,151.6 L206.0,150.5 L206.4,149.3 L206.9,148.2 L207.3,147.1 L207.8,146.0 L208.3,144.9 L208.7,143.8 L209.2,142.7 L209.7,141.6 L210.1,140.5 L210.6,139.4 L211.1,138.2 L211.6,137.1 L212.1,136.0 L212.5,134.9 L213.0,133.8 L213.5,132.7 L214.0,131.6 L214.5,130.5 L215.0,129.4 L215.5,128.3 L216.0,127.2 L216.4,126.2 L216.9,125.1 L217.4,124.0 L217.9,122.9 L218.4,121.8 L218.9,120.7 L219.4,119.6 L219.9,118.5 L220.3,117.4 L220.8,116.3 L221.3,115.2 L221.8,114.0 L222.3,112.9 L222.7,111.8 L223.2,110.7 L223.7,109.6 L224.1,108.5 L224.6,107.4 L225.1,106.3 L225.5,105.2 L226.0,104.1 L226.4,102.9 L226.8,101.8 L227.3,100.7 L227.7,99.6 L228.2,98.5 L228.7,97.4 L229.2,96.3 L229.7,95.2 L230.2,94.1 L230.8,93.0 L231.4,92.0 L232.0,91.0 L232.6,89.9 L233.3,88.9 L234.0,87.9 L234.7,87.0 L235.4,86.0 L236.1,85.1 L236.9,84.1 L237.7,83.2 L238.5,82.3 L239.3,81.4 L240.1,80.6 L241.0,79.7 L241.9,78.9 L242.8,78.1 L243.8,77.4 L244.8,76.7 L245.8,76.1 L246.9,75.7 L248.1,75.3 L249.3,75.0 L250.5,74.9 L251.7,74.9 L252.9,75.1 L254.1,75.5 L255.2,75.9 L256.4,76.5 L257.5,77.1 L258.6,77.8 L259.7,78.6 L260.8,79.3 L261.8,80.1 L262.7,81.0 L263.7,81.9 L264.5,82.8 L265.4,83.7 L266.3,84.6 L267.1,85.6 L268.0,86.5 L268.9,87.3 L269.8,88.1 L270.8,88.7 L271.8,89.4 L272.8,90.0 L273.8,90.7 L274.8,91.3 L275.8,91.9 L276.8,92.5 L277.8,93.1 L278.8,93.8 L279.8,94.4 L280.8,95.1 L281.8,95.7 L282.9,96.3 L283.9,96.8 L285.0,97.3 L286.0,97.8 L287.1,98.3 L288.2,98.7 L289.3,99.1 L290.4,99.5 L291.6,99.8 L292.7,100.1 L293.8,100.3 L295.0,100.5 L296.2,100.7 L297.3,100.9 L298.5,101.0 L299.7,101.2 L300.9,101.3 L302.1,101.4 L303.2,101.5 L304.4,101.7 L305.6,101.9 L306.8,102.0 L308.0,102.1 L309.2,102.3 L310.4,102.5 L311.6,102.6 L312.8,102.7 L314.0,102.9 L315.2,103.0 L316.4,103.2 L317.5,103.3 L318.7,103.5 L319.9,103.7 L321.1,103.9 L322.3,104.1 L323.5,104.3 L324.7,104.5 L325.8,104.8 L327.0,105.0 L328.2,105.3 L329.4,105.5 L330.5,105.8 L331.7,106.0 L332.9,106.3 L334.1,106.6 L335.2,106.8 L336.4,107.1 L337.6,107.4 L338.8,107.6 L339.9,107.9 L341.1,108.1 L342.3,108.4 L343.5,108.6 L344.6,108.9 L345.8,109.1 L347.0,109.4 L348.2,109.6 L349.3,109.9 L350.5,110.1 L351.7,110.3 L352.9,110.6 L354.1,110.8 L355.3,111.0 L356.4,111.2 L357.6,111.4 L358.8,111.6 L360.0,111.8 L361.2,111.9 L362.4,112.0 L363.6,112.1 L364.8,112.2 L366.0,112.3 L367.2,112.4 L368.4,112.5 L369.6,112.5 L370.8,112.6 L372.0,112.7 L373.2,112.7 L374.4,112.8 L375.6,112.9 L376.8,112.9 L378.0,113.0 L379.2,113.1 L380.4,113.2" stroke="#800080" stroke-width="3.5" stroke-dasharray="11.3,1.7" stroke-dashoffset="1.7"/>
<path d="M52.0,116.8 L53.2,116.8 L54.4,116.7 L55.6,116.7 L56.8,116.6 L58.0,116.6 L59.2,116.5 L60.4,116.5 L61.6,116.4 L62.8,116.4 L64.0,116.3 L65.2,116.2 L66.4,116.2 L67.6,116.1 L68.8,116.1 L70.0,116.0 L71.2,115.9 L72.4,115.9 L73.6,115.8 L74.8,115.8 L76.0,115.7 L77.2,115.7 L78.4,115.6 L79.6,115.6 L80.8,115.5 L82.0,115.5 L83.2,115.4 L84.4,115.4 L85.6,115.3 L86.8,115.3 L88.0,115.2 L89.2,115.1 L90.4,115.0 L91.6,114.9 L92.8,114.8 L94.0,114.7 L95.2,114.6 L96.4,114.4 L97.6,114.3 L98.8,114.1 L100.0,113.9 L101.1,113.7 L102.3,113.5 L103.5,113.3 L104.7,113.1 L105.9,112.8 L107.0,112.6 L108.2,112.4 L109.4,112.1 L110.6,111.9 L111.7,111.6 L112.9,111.4 L114.1,111.1 L115.3,110.9 L116.5,110.6 L117.6,110.4 L118.8,110.2 L120.0,110.0 L121.2,109.8 L122.4,109.6 L123.6,109.4 L124.7,109.2 L125.9,109.0 L127.1,108.9 L128.3,108.7 L129.5,108.6 L130.7,108.4 L131.9,108.3 L133.1,108.2 L134.3,108.1 L135.5,108.0 L136.7,107.8 L137.9,107.7 L139.1,107.6 L140.3,107.5 L141.5,107.4 L142.7,107.3 L143.9,107.2 L145.1,107.1 L146.3,107.0 L147.5,106.9 L148.7,106.8 L149.9,106.6 L151.0,106.5 L152.2,106.3 L153.4,106.0 L154.6,105.7 L155.7,105.4 L156.9,105.0 L158.0,104.6 L159.1,104.1 L160.2,103.6 L161.2,103.0 L162.3,102.4 L163.3,101.8 L164.3,101.2 L165.3,100.5 L166.3,99.8 L167.3,99.0 L168.2,98.3 L169.1,97.5 L169.9,96.6 L170.7,95.7 L171.5,94.8 L172.2,93.8 L173.0,92.9 L173.7,91.9 L174.4,91.0 L175.1,90.0 L175.8,89.0 L176.4,88.0 L177.0,86.9 L177.6,85.9 L178.2,84.8 L178.8,83.8 L179.4,82.7 L179.9,81.7 L180.5,80.6 L181.1,79.5 L181.6,78.5 L182.2,77.4 L182.8,76.4 L183.4,75.3 L183.9,74.3 L184.5,73.2 L185.1,72.2 L185.7,71.1 L186.2,70.1 L186.8,69.0 L187.4,67.9 L187.9,66.9 L188.5,65.8 L189.1,64.8 L189.6,63.7 L190.2,62.6 L190.7,61.6 L191.3,60.5 L191.9,59.5 L192.5,58.4 L193.1,57.4 L193.6,56.3 L194.2,55.3 L194.8,54.2 L195.4,53.2 L196.0,52.1 L196.6,51.1 L197.2,50.1 L197.9,49.0 L198.5,48.0 L199.1,47.0 L199.7,46.0 L200.4,44.9 L201.0,43.9 L201.7,42.9 L202.4,41.9 L203.1,40.9 L203.8,40.0 L204.5,39.0 L205.2,38.0 L206.0,37.1 L206.8,36.2 L207.6,35.4 L208.5,34.6 L209.5,33.8 L210.5,33.2 L211.5,32.6 L212.7,32.1 L213.8,31.7 L215.0,31.5 L216.2,31.4 L217.4,31.5 L218.6,31.7 L219.7,32.1 L220.9,32.6 L221.9,33.2 L222.9,33.8 L223.9,34.6 L224.8,35.4 L225.6,36.2 L226.4,37.1 L227.2,38.0 L227.9,39.0 L228.6,40.0 L229.3,40.9 L230.0,41.9 L230.7,42.9 L231.4,43.9 L232.0,44.9 L232.7,46.0 L233.3,47.0 L233.9,48.0 L234.5,49.0 L235.2,50.1 L235.8,51.1 L236.4,52.1 L237.0,53.2 L237.6,54.2 L238.2,55.3 L238.8,56.3 L239.3,57.4 L239.9,58.4 L240.5,59.5 L241.1,60.5 L241.7,61.6 L242.2,62.6 L242.8,63.7 L243.3,64.8 L243.9,65.8 L244.5,66.9 L245.0,67.9 L245.6,69.0 L246.2,70.1 L246.7,71.1 L247.3,72.2 L247.9,73.2 L248.5,74.3 L249.0,75.3 L249.6,76.4 L250.2,77.4 L250.8,78.5 L251.3,79.5 L251.9,80.6 L252.5,81.7 L253.0,82.7 L253.6,83.8 L254.2,84.8 L254.8,85.9 L255.4,86.9 L256.0,88.0 L256.6,89.0 L257.3,90.0 L258.0,91.0 L258.7,91.9 L259.4,92.9 L260.2,93.8 L260.9,94.8 L261.7,95.7 L262.5,96.6 L263.3,97.5 L264.2,98.3 L265.1,99.0 L266.1,99.8 L267.1,100.5 L268.1,101.2 L269.1,101.8 L270.1,102.4 L271.2,103.0 L272.2,103.6 L273.3,104.1 L274.4,104.6 L275.5,105.0 L276.7,105.4 L277.8,105.7 L279.0,106.0 L280.2,106.3 L281.4,106.5 L282.5,106.6 L283.7,106.8 L284.9,106.9 L286.1,107.0 L287.3,107.1 L288.5,107.2 L289.7,107.3 L290.9,107.4 L292.1,107.5 L293.3,107.6 L294.5,107.7 L295.7,107.8 L296.9,108.0 L298.1,108.1 L299.3,108.2 L300.5,108.3 L301.7,108.4 L302.9,108.6 L304.1,108.7 L305.3,108.9 L306.5,109.0 L307.7,109.2 L308.8,109.4 L310.0,109.6 L311.2,109.8 L312.4,110.0 L313.6,110.2 L314.8,110.4 L315.9,110.6 L317.1,110.9 L318.3,111.1 L319.5,111.4 L320.7,111.6 L321.8,111.9 L323.0,112.1 L324.2,112.4 L325.4,112.6 L326.5,112.8 L327.7,113.1 L328.9,113.3 L330.1,113.5 L331.3,113.7 L332.4,113.9 L333.6,114.1 L334.8,114.3 L336.0,114.4 L337.2,114.6 L338.4,114.7 L339.6,114.8 L340.8,114.9 L342.0,115.0 L343.2,115.1 L344.4,115.2 L345.6,115.3 L346.8,115.3 L348.0,115.4 L349.2,115.4 L350.4,115.5 L351.6,115.5 L352.8,115.6 L354.0,115.6 L355.2,115.7 L356.4,115.7 L357.6,115.8 L358.8,115.8 L360.0,115.9 L361.2,115.9 L362.4,116.0 L363.6,116.1 L364.8,116.1 L366.0,116.2 L367.2,116.2 L368.4,116.3 L369.6,116.4 L370.8,116.4 L372.0,116.5 L373.2,116.5 L374.4,116.6 L375.6,116.6 L376.8,116.7 L378.0,116.7 L379.2,116.8 L380.4,116.8" stroke="#000" stroke-width="2.0"/>
<path d="M52.0,145.5 L53.2,145.6 L54.4,145.7 L55.6,145.8 L56.8,145.9 L58.0,145.9 L59.2,146.0 L60.4,146.1 L61.6,146.2 L62.8,146.3 L64.0,146.3 L65.2,146.4 L66.4,146.5 L67.6,146.6 L68.8,146.6 L70.0,146.7 L71.2,146.8 L72.4,146.9 L73.6,147.0 L74.8,147.1 L76.0,147.2 L77.2,147.3 L78.4,147.4 L79.6,147.6 L80.8,147.7 L81.9,147.9 L83.1,148.1 L84.3,148.4 L85.5,148.6 L86.7,148.9 L87.8,149.1 L89.0,149.4 L90.2,149.7 L91.3,150.0 L92.5,150.2 L93.7,150.5 L94.9,150.7 L96.0,151.0 L97.2,151.2 L98.4,151.4 L99.6,151.6 L100.8,151.8 L102.0,152.0 L103.1,152.2 L104.3,152.4 L105.5,152.6 L106.7,152.8 L107.9,152.9 L109.1,153.1 L110.3,153.2 L111.5,153.4 L112.7,153.5 L113.9,153.6 L115.1,153.7 L116.3,153.7 L117.5,153.8 L118.7,153.9 L119.9,153.9 L121.1,154.0 L122.3,154.1 L123.5,154.1 L124.7,154.2 L125.9,154.3 L127.1,154.3 L128.3,154.5 L129.5,154.6 L130.7,154.7 L131.8,154.9 L133.0,155.1 L134.2,155.3 L135.4,155.5 L136.6,155.8 L137.7,156.1 L138.9,156.5 L140.0,156.8 L141.2,157.2 L142.3,157.6 L143.4,158.0 L144.6,158.4 L145.7,158.8 L146.8,159.2 L148.0,159.6 L149.1,160.1 L150.2,160.5 L151.3,161.1 L152.3,161.6 L153.4,162.2 L154.4,162.8 L155.4,163.5 L156.5,164.1 L157.5,164.8 L158.5,165.4 L159.5,166.1 L160.4,166.8 L161.4,167.5 L162.4,168.2 L163.4,168.9 L164.3,169.6 L165.3,170.4 L166.2,171.1 L167.2,171.8 L168.2,172.5 L169.2,173.2 L170.2,173.8 L171.3,174.4 L172.3,174.9 L173.4,175.4 L174.6,175.9 L175.7,176.3 L176.9,176.6 L178.0,176.9 L179.2,177.1 L180.4,177.2 L181.6,177.2 L182.8,177.1 L184.0,176.9 L185.2,176.6 L186.3,176.2 L187.4,175.7 L188.4,175.0 L189.4,174.4 L190.4,173.6 L191.3,172.8 L192.2,172.0 L193.1,171.2 L193.9,170.3 L194.8,169.5 L195.6,168.6 L196.4,167.7 L197.1,166.7 L197.9,165.8 L198.6,164.8 L199.3,163.9 L200.0,162.9 L200.6,161.8 L201.3,160.8 L201.8,159.8 L202.4,158.7 L202.9,157.6 L203.5,156.5 L203.9,155.5 L204.4,154.3 L204.9,153.2 L205.3,152.1 L205.8,151.0 L206.2,149.9 L206.7,148.8 L207.1,147.7 L207.6,146.5 L208.0,145.4 L208.5,144.3 L209.0,143.2 L209.4,142.1 L209.9,141.0 L210.4,139.9 L210.9,138.8 L211.3,137.7 L211.8,136.6 L212.3,135.5 L212.8,134.4 L213.3,133.3 L213.8,132.2 L214.2,131.1 L214.7,130.0 L215.2,128.9 L215.7,127.8 L216.2,126.7 L216.7,125.6 L217.2,124.5 L217.7,123.4 L218.2,122.3 L218.6,121.2 L219.1,120.1 L219.6,119.0 L220.1,117.9 L220.6,116.8 L221.1,115.7 L221.5,114.6 L222.0,113.5 L222.5,112.4 L223.0,111.3 L223.4,110.2 L223.9,109.1 L224.4,108.0 L224.8,106.9 L225.3,105.7 L225.7,104.6 L226.2,103.5 L226.6,102.4 L227.1,101.3 L227.5,100.2 L228.0,99.1 L228.5,97.9 L228.9,96.9 L229.5,95.8 L230.0,94.7 L230.6,93.6 L231.1,92.6 L231.8,91.6 L232.4,90.5 L233.1,89.5 L233.8,88.6 L234.5,87.6 L235.3,86.7 L236.0,85.7 L236.8,84.8 L237.6,83.9 L238.5,83.1 L239.3,82.2 L240.2,81.4 L241.1,80.6 L242.0,79.8 L243.0,79.0 L244.0,78.4 L245.0,77.7 L246.1,77.2 L247.2,76.8 L248.4,76.5 L249.6,76.3 L250.8,76.2 L252.0,76.2 L253.2,76.4 L254.4,76.8 L255.5,77.2 L256.7,77.7 L257.8,78.3 L259.0,79.0 L260.1,79.7 L261.1,80.4 L262.2,81.1 L263.2,81.9 L264.2,82.7 L265.2,83.5 L266.2,84.3 L267.1,85.1 L268.1,85.9 L269.0,86.7 L270.0,87.4 L271.0,88.0 L272.0,88.7 L272.9,89.3 L273.9,89.9 L274.9,90.6 L275.9,91.2 L277.0,91.8 L278.0,92.4 L279.0,93.0 L280.1,93.5 L281.1,94.1 L282.2,94.6 L283.3,95.0 L284.4,95.4 L285.6,95.8 L286.7,96.1 L287.8,96.4 L289.0,96.6 L290.1,96.9 L291.2,97.1 L292.4,97.4 L293.5,97.6 L294.7,97.8 L295.8,98.0 L297.0,98.1 L298.2,98.3 L299.4,98.4 L300.6,98.6 L301.7,98.7 L302.9,98.8 L304.1,98.9 L305.3,99.1 L306.5,99.1 L307.7,99.2 L308.9,99.3 L310.1,99.3 L311.3,99.4 L312.5,99.5 L313.7,99.5 L314.9,99.6 L316.1,99.7 L317.3,99.7 L318.5,99.8 L319.7,99.9 L320.9,100.0 L322.1,100.2 L323.3,100.3 L324.5,100.5 L325.7,100.6 L326.9,100.8 L328.1,101.0 L329.3,101.2 L330.4,101.4 L331.6,101.6 L332.8,101.8 L334.0,102.0 L335.2,102.2 L336.4,102.4 L337.5,102.7 L338.7,102.9 L339.9,103.2 L341.1,103.4 L342.2,103.7 L343.4,104.0 L344.6,104.3 L345.7,104.5 L346.9,104.8 L348.1,105.0 L349.3,105.3 L350.5,105.5 L351.6,105.7 L352.8,105.8 L354.0,106.0 L355.2,106.1 L356.4,106.2 L357.6,106.3 L358.8,106.4 L360.0,106.5 L361.2,106.6 L362.4,106.7 L363.6,106.8 L364.8,106.8 L366.0,106.9 L367.2,107.0 L368.4,107.1 L369.6,107.1 L370.8,107.2 L372.0,107.3 L373.2,107.4 L374.4,107.5 L375.6,107.5 L376.8,107.6 L378.0,107.7 L379.2,107.8 L380.4,107.9" stroke="#000" stroke-width="2.0"/>
</g>
<rect x="62.5" y="3.3" width="306.9" height="189.89999999999998" fill="none" stroke="#707070" stroke-width="0.75"/>
<path d="M68.74,193.2v-3.5M68.74,3.3v3.5M78.58,193.2v-1.9M78.58,3.3v1.9M88.42,193.2v-1.9M88.42,3.3v1.9M98.26,193.2v-1.9M98.26,3.3v1.9M108.09,193.2v-1.9M108.09,3.3v1.9M117.93,193.2v-3.5M117.93,3.3v3.5M127.77,193.2v-1.9M127.77,3.3v1.9M137.60,193.2v-1.9M137.60,3.3v1.9M147.44,193.2v-1.9M147.44,3.3v1.9M157.28,193.2v-1.9M157.28,3.3v1.9M167.11,193.2v-3.5M167.11,3.3v3.5M176.95,193.2v-1.9M176.95,3.3v1.9M186.79,193.2v-1.9M186.79,3.3v1.9M196.63,193.2v-1.9M196.63,3.3v1.9M206.46,193.2v-1.9M206.46,3.3v1.9M216.30,193.2v-3.5M216.30,3.3v3.5M226.14,193.2v-1.9M226.14,3.3v1.9M235.97,193.2v-1.9M235.97,3.3v1.9M245.81,193.2v-1.9M245.81,3.3v1.9M255.65,193.2v-1.9M255.65,3.3v1.9M265.49,193.2v-3.5M265.49,3.3v3.5M275.32,193.2v-1.9M275.32,3.3v1.9M285.16,193.2v-1.9M285.16,3.3v1.9M295.00,193.2v-1.9M295.00,3.3v1.9M304.83,193.2v-1.9M304.83,3.3v1.9M314.67,193.2v-3.5M314.67,3.3v3.5M324.51,193.2v-1.9M324.51,3.3v1.9M334.34,193.2v-1.9M334.34,3.3v1.9M344.18,193.2v-1.9M344.18,3.3v1.9M354.02,193.2v-1.9M354.02,3.3v1.9M363.86,193.2v-3.5M363.86,3.3v3.5M62.5,183.87h1.9M369.4,183.87h-1.9M62.5,174.38h3.5M369.4,174.38h-3.5M62.5,164.88h1.9M369.4,164.88h-1.9M62.5,155.38h1.9M369.4,155.38h-1.9M62.5,145.89h1.9M369.4,145.89h-1.9M62.5,136.39h1.9M369.4,136.39h-1.9M62.5,126.90h3.5M369.4,126.90h-3.5M62.5,117.41h1.9M369.4,117.41h-1.9M62.5,107.91h1.9M369.4,107.91h-1.9M62.5,98.42h1.9M369.4,98.42h-1.9M62.5,88.92h1.9M369.4,88.92h-1.9M62.5,79.42h3.5M369.4,79.42h-3.5M62.5,69.93h1.9M369.4,69.93h-1.9M62.5,60.44h1.9M369.4,60.44h-1.9M62.5,50.94h1.9M369.4,50.94h-1.9M62.5,41.45h1.9M369.4,41.45h-1.9M62.5,31.95h3.5M369.4,31.95h-3.5M62.5,22.45h1.9M369.4,22.45h-1.9M62.5,12.96h1.9M369.4,12.96h-1.9" stroke="#686868" stroke-width="0.65" fill="none"/>
<g font-family="Liberation Sans, sans-serif" font-weight="bold" font-size="14.5" fill="#000">
<text x="68.7" y="209.1" text-anchor="middle">−15</text>
<text x="117.9" y="209.1" text-anchor="middle">−10</text>
<text x="167.1" y="209.1" text-anchor="middle">−5</text>
<text x="216.3" y="209.1" text-anchor="middle">0</text>
<text x="265.5" y="209.1" text-anchor="middle">5</text>
<text x="314.7" y="209.1" text-anchor="middle">10</text>
<text x="363.9" y="209.1" text-anchor="middle">15</text>
<text x="58.9" y="36.4" text-anchor="end" font-size="14.2">1.0</text>
<text x="58.9" y="83.8" text-anchor="end" font-size="14.2">0.5</text>
<text x="58.9" y="131.3" text-anchor="end" font-size="14.2">0.0</text>
<text x="58.9" y="178.8" text-anchor="end" font-size="14.2">−0.5</text>
</g>
<text x="216.6" y="236.7" text-anchor="middle" font-family="Liberation Sans, sans-serif" font-weight="bold" font-style="italic" font-size="18.4">v</text>
<path d="M75.80,25.45H80.35" stroke="#000" stroke-width="3.85" fill="none"/>
<path d="M81.00,25.45H85.55" stroke="#000" stroke-width="3.85" fill="none"/>
<path d="M86.20,25.45H90.75" stroke="#000" stroke-width="3.85" fill="none"/>
<path d="M91.40,25.45H95.95" stroke="#000" stroke-width="3.85" fill="none"/>
<path d="M96.60,25.45H101.15" stroke="#000" stroke-width="3.85" fill="none"/>
<path d="M101.80,25.45H106.35" stroke="#000" stroke-width="3.85" fill="none"/>
<path d="M107.00,25.45H111.55" stroke="#000" stroke-width="3.85" fill="none"/>
<path d="M112.20,25.45H116.75" stroke="#000" stroke-width="3.85" fill="none"/>
<path d="M73.10,44.75H77.60" stroke="#0000ff" stroke-width="3.85" fill="none"/>
<path d="M78.60,44.75H86.00" stroke="#0000ff" stroke-width="3.85" fill="none"/>
<path d="M87.00,44.75H90.90" stroke="#0000ff" stroke-width="3.85" fill="none"/>
<path d="M92.00,44.75H99.20" stroke="#0000ff" stroke-width="3.85" fill="none"/>
<path d="M100.30,44.75H104.10" stroke="#0000ff" stroke-width="3.85" fill="none"/>
<path d="M105.20,44.75H113.10" stroke="#0000ff" stroke-width="3.85" fill="none"/>
<path d="M73.30,63.7H89.90" stroke="#808080" stroke-width="3.8" fill="none"/>
<path d="M94.00,63.7H110.80" stroke="#808080" stroke-width="3.8" fill="none"/>
<path d="M75.00,82.75H87.80" stroke="#800080" stroke-width="3.85" fill="none"/>
<path d="M89.30,82.75H102.10" stroke="#800080" stroke-width="3.85" fill="none"/>
<path d="M103.60,82.75H116.40" stroke="#800080" stroke-width="3.85" fill="none"/>
<g font-family="Liberation Sans, sans-serif" font-weight="bold" font-size="13.25" fill="#000">
<text x="126.8" y="29.2">P<tspan font-size="9.4" dy="2.8">3</tspan><tspan dy="-2.8">=0.95GeV</tspan></text>
<text x="124.6" y="47.9" font-size="12.7">1.4</text>
<text x="124.6" y="67.1" font-size="12.7">2.4</text>
<text x="125.7" y="86.3" font-size="12.7">5</text>
</g>
<text x="275.7" y="29.0" font-family="Liberation Sans, sans-serif" font-weight="bold" font-size="19.7" letter-spacing="0.22" xml:space="preserve">pion  (a)</text>
<text x="275.1" y="56.5" font-family="Liberation Sans, sans-serif" font-weight="bold" font-size="15.7"><tspan font-style="italic" font-size="15.2">χ</tspan>QM+evol.</text>
<path d="M291.2,82.8H311.8" stroke="#000" stroke-width="2.1"/>
<text x="321.5" y="87" font-family="Liberation Sans, sans-serif" font-weight="bold" font-size="14">P<tspan font-size="10" dy="2.8">3</tspan></text><text x="336.3" y="87.3" font-family="Liberation Sans, sans-serif" font-weight="bold" font-size="13">=</text><text x="343.6" y="87.8" font-family="Liberation Sans, sans-serif" font-weight="bold" font-size="15.9">∞</text>
<text x="276.5" y="166" font-family="Liberation Sans, sans-serif" font-weight="bold" font-size="15.8">Q=2.4GeV</text>
<g font-family="Liberation Sans, sans-serif" fill="#000">
<g transform="translate(17.2,154.0) rotate(-90)" stroke="#000" stroke-width="2.4" fill="none"><path d="M4.3,-13.5V0.2q0,1.3 -1.9,1.5 M4.3,-9.4C4.3,-11.6 5.5,-12.45 7.2,-12.45C9.1,-12.45 9.9,-11.3 9.9,-9.2V0 M9.9,-9.4C9.9,-11.6 11.1,-12.45 12.8,-12.45C14.7,-12.45 15.5,-11.3 15.5,-9.2V0"/></g>
<text transform="translate(20.60,135.79) rotate(-90) scale(0.788,1)" font-size="13.6" font-weight="bold" font-style="italic" >V</text>
<text transform="translate(22.40,127.18) rotate(-90) scale(0.859,1)" font-size="9.8" font-weight="bold" font-style="italic" >π</text>
<text transform="translate(16.80,117.52) rotate(-90) scale(1.084,1)" font-size="17.0" font-weight="bold" font-style="normal" style="stroke-width:0.1px">(</text>
<text transform="translate(16.80,111.19) rotate(-90) scale(1.051,1)" font-size="15.8" font-weight="bold" font-style="italic" >v</text>
<text transform="translate(16.80,100.02) rotate(-90) scale(1.350,1)" font-size="15.8" font-weight="bold" font-style="normal" >,</text>
<text transform="translate(16.80,94.23) rotate(-90) scale(1.097,1)" font-size="15.8" font-weight="bold" font-style="italic" >v</text>
<text transform="translate(10.90,85.32) rotate(-90) scale(1.147,1)" font-size="10.5" font-weight="bold" font-style="normal" style="stroke-width:0">2</text>
<text transform="translate(16.80,77.60) rotate(-90) scale(1.617,1)" font-size="15.8" font-weight="normal" font-style="normal" >/</text>
<text transform="translate(16.80,71.54) rotate(-90) scale(1.215,1)" font-size="15.8" font-weight="bold" font-style="italic" >P</text>
<text transform="translate(10.90,57.48) rotate(-90) scale(1.306,1)" font-size="10.5" font-weight="bold" font-style="normal" style="stroke-width:0">2</text>
<text transform="translate(20.30,57.30) rotate(-90) scale(1.265,1)" font-size="10.5" font-weight="bold" font-style="normal" style="stroke-width:0">3</text>
<text transform="translate(16.80,48.52) rotate(-90) scale(1.084,1)" font-size="17.0" font-weight="bold" font-style="normal" style="stroke-width:0.1px">)</text>
</g>
</g></svg>
</body></html>
